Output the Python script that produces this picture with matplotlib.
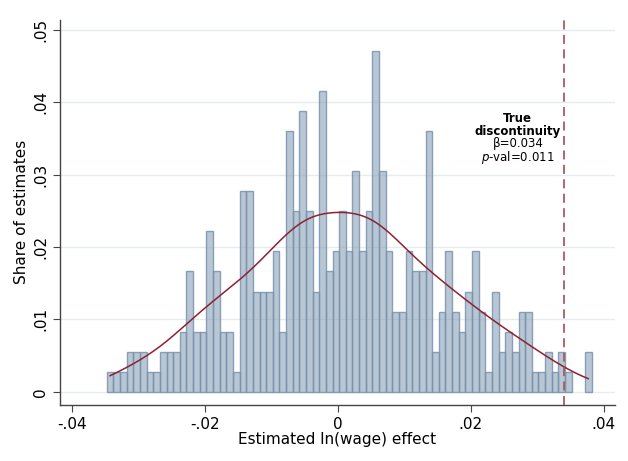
import numpy as np
import matplotlib.pyplot as plt

# histogram of estimated ln(wage) effects, counts per bin (bin width ~0.001)
bin_start = -0.0348
bin_width = 0.001
counts = [1, 1, 1, 2, 2, 2, 1, 1, 2, 2, 2, 3, 6, 3, 3, 8, 6, 3, 3,
          1, 10, 10, 5, 5, 5, 7, 3, 13, 9, 14, 9, 5, 15, 6, 7, 9, 7,
          11, 7, 9, 17, 11, 7, 4, 4, 7, 6, 6, 13, 2, 4, 7, 4, 3, 5,
          7, 4, 1, 5, 2, 3, 2, 4, 4, 1, 1, 2, 1, 2, 1, 0, 0, 2]
true_beta = 0.034
true_pval = 0.011

counts = np.array(counts, dtype=float)
share = counts / counts.sum()
left_edges = bin_start + bin_width * np.arange(len(counts))
centers = left_edges + bin_width / 2
keep = counts > 0

# kernel density of the estimates, scaled to share-per-bin
bw = 0.0047
xs = np.linspace(centers[0], centers[-1], 300)
dens = np.zeros_like(xs)
for c, n in zip(centers, counts):
    dens += n * np.exp(-0.5 * ((xs - c) / bw) ** 2)
dens = dens / (counts.sum() * bw * np.sqrt(2 * np.pi)) * bin_width

fig = plt.figure(figsize=(6.28, 4.61), dpi=100)
ax = fig.add_axes([0.096, 0.122, 0.883, 0.835])

ax.bar(left_edges[keep], share[keep], width=bin_width, align="edge",
       facecolor=(0.50, 0.60, 0.70, 0.55), edgecolor=(0.47, 0.58, 0.68, 0.85),
       linewidth=1.0, zorder=2)
ax.plot(xs, dens, color="#8c2232", linewidth=1.1, zorder=3)
ax.axvline(true_beta, color="#a85a63", linestyle=(0, (5, 3)), linewidth=1.3, zorder=4)

tx = 0.0271
ax.text(tx, 0.0369, "True\ndiscontinuity", ha="center", va="center", fontsize=8.5,
        fontweight="bold", linespacing=1.0)
ax.text(tx, 0.03315, "\u03b2=%.3f\n$p$-val=%.3f" % (true_beta, true_pval),
        ha="center", va="center", fontsize=8.5, linespacing=0.92)

ax.set_xlim(-0.0418, 0.0417)
ax.set_ylim(-0.0018, 0.0514)
xt = [-0.04, -0.02, 0, 0.02, 0.04]
ax.set_xticks(xt)
ax.set_xticklabels(["-.04", "-.02", "0", ".02", ".04"], fontsize=11)
yt = [0, 0.01, 0.02, 0.03, 0.04, 0.05]
ax.set_yticks(yt)
ax.set_yticklabels(["0", ".01", ".02", ".03", ".04", ".05"], fontsize=11,
                   rotation=90, va="center")
ax.grid(axis="y", color="#e6eced", linewidth=1.0, zorder=0)
ax.set_axisbelow(True)

for s in ["top", "right"]:
    ax.spines[s].set_visible(False)
for s in ["left", "bottom"]:
    ax.spines[s].set_color("#444444")
    ax.spines[s].set_linewidth(1.0)
ax.tick_params(direction="out", length=5, color="#444444")

ax.set_xlabel("Estimated ln(wage) effect", fontsize=11, labelpad=0)
ax.set_ylabel("Share of estimates", fontsize=11, labelpad=3)

fig.savefig("out.png", dpi=100)
